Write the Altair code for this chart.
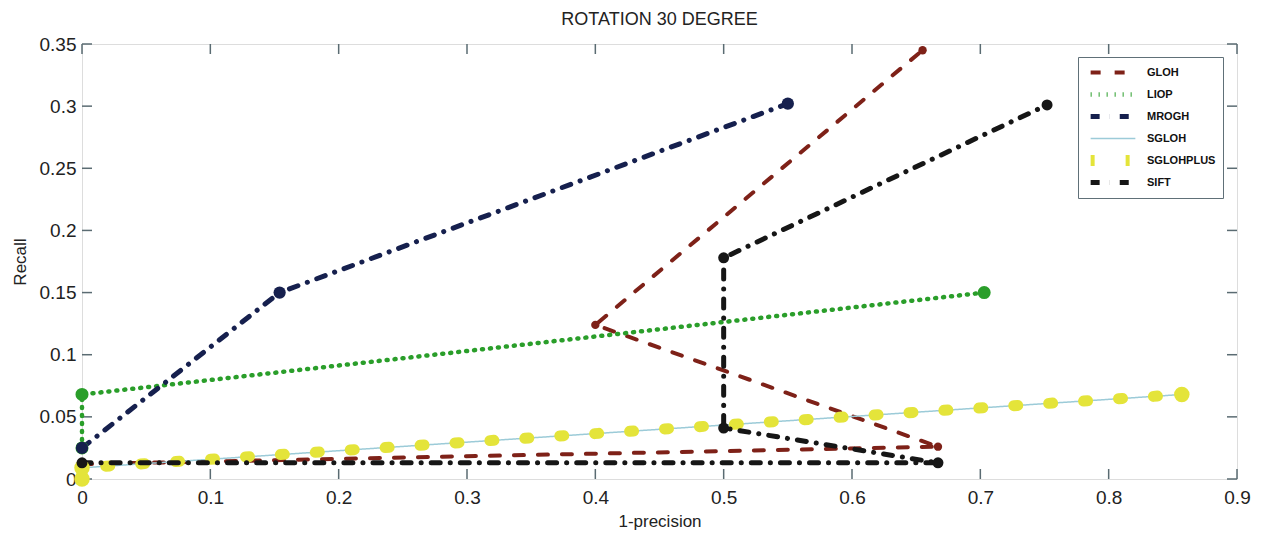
import altair as alt
import pandas as pd

# ---- data ----
series_names = ["GLOH", "LIOP", "MROGH", "SGLOH", "SGLOHPLUS", "SIFT"]

gloh_x = [0.0, 0.667, 0.40, 0.655]
gloh_y = [0.012, 0.026, 0.124, 0.345]

liop_x = [0.0, 0.0, 0.703]
liop_y = [0.025, 0.068, 0.150]

mrogh_x = [0.0, 0.154, 0.55]
mrogh_y = [0.025, 0.150, 0.302]

sgloh_x = [0.0, 0.857]
sgloh_y = [0.009, 0.068]

sglohplus_x = [0.0, 0.0, 0.857]
sglohplus_y = [0.0, 0.009, 0.068]

sift_x = [0.0, 0.667, 0.50, 0.50, 0.752]
sift_y = [0.013, 0.013, 0.041, 0.178, 0.301]

x_ticks = [0.0, 0.1, 0.2, 0.3, 0.4, 0.5, 0.6, 0.7, 0.8, 0.9]
y_ticks = [0.0, 0.05, 0.1, 0.15, 0.2, 0.25, 0.3, 0.35]

# ---- styles ----
colors = ["#7e2118", "#2a9e2a", "#16204e", "#9ccbd8", "#e4e43a", "#161616"]
dashes = [[10, 14], [1, 7], [9, 10, 0.1, 10], [1, 0], [4, 31], [9, 10, 0.1, 10]]
widths = [4, 4.5, 5, 1.5, 11, 5]
marker_sizes = [70, 170, 150, 15, 240, 120]

all_x = [gloh_x, liop_x, mrogh_x, sgloh_x, sglohplus_x, sift_x]
all_y = [gloh_y, liop_y, mrogh_y, sgloh_y, sglohplus_y, sift_y]

rows = []
for name, xs, ys in zip(series_names, all_x, all_y):
    for i, (xv, yv) in enumerate(zip(xs, ys)):
        rows.append({"series": name, "x": xv, "y": yv, "order": i})
df = pd.DataFrame(rows)

W, H = 1155, 435
AXC = "#5a6b72"
FONT = "Liberation Sans"

xscale = alt.Scale(domain=[0, 0.9], nice=False, zero=False)
yscale = alt.Scale(domain=[0, 0.35], nice=False, zero=False)
cscale = alt.Scale(domain=series_names, range=colors)

xaxis = alt.Axis(title="1-precision", values=x_ticks, format="~g", grid=False,
                 domain=False, ticks=False, tickSize=0, labelFontSize=19,
                 labelColor="#222222", labelPadding=9, titleFontSize=17,
                 titleFontWeight="normal", titleColor="#222222", titlePadding=6,
                 labelFont=FONT, titleFont=FONT, labelFlush=False)
yaxis = alt.Axis(title="Recall", values=y_ticks, format="~g", grid=False,
                 domain=False, ticks=False, tickSize=0, labelFontSize=19,
                 labelColor="#222222", labelPadding=6, titleFontSize=17,
                 titleFontWeight="normal", titleColor="#222222", titlePadding=10,
                 labelFont=FONT, titleFont=FONT, labelFlush=False)

X = alt.X("x:Q", scale=xscale, axis=xaxis)
Y = alt.Y("y:Q", scale=yscale, axis=yaxis)

lines = alt.Chart(df).mark_line(strokeCap="round", strokeJoin="round").encode(
    x=X, y=Y,
    color=alt.Color("series:N", scale=cscale,
                    legend=alt.Legend(title=None, orient="none", legendX=996, legendY=13,
                                      labelFont=FONT, labelFontSize=11, labelFontWeight="bold",
                                      labelColor="#111111", symbolType="stroke", symbolSize=2000,
                                      clipHeight=17, strokeColor="#607078", fillColor="white",
                                      padding=7, rowPadding=5, labelOffset=6)),
    strokeDash=alt.StrokeDash("series:N", scale=alt.Scale(type="ordinal", domain=series_names, range=dashes)),
    strokeWidth=alt.StrokeWidth("series:N", scale=alt.Scale(type="ordinal", domain=series_names, range=widths)),
    order="order:Q",
)

point_layers = []
for name, col, sz in zip(series_names, colors, marker_sizes):
    point_layers.append(
        alt.Chart(df).transform_filter(alt.datum.series == name)
        .mark_point(filled=True, opacity=1, color=col, size=sz)
        .encode(x=X, y=Y)
    )

tx = pd.DataFrame({"x": x_ticks})
ty = pd.DataFrame({"y": y_ticks})
tick_bottom = alt.Chart(tx).mark_rule(color=AXC, strokeWidth=1.5).encode(
    x=X, y=alt.value(H), y2=alt.value(H - 10))
tick_top = alt.Chart(tx).mark_rule(color=AXC, strokeWidth=1.5).encode(
    x=X, y=alt.value(0), y2=alt.value(10))
tick_left = alt.Chart(ty).mark_rule(color=AXC, strokeWidth=1.5).encode(
    y=Y, x=alt.value(0), x2=alt.value(10))
tick_right = alt.Chart(ty).mark_rule(color=AXC, strokeWidth=1.5).encode(
    y=Y, x=alt.value(W), x2=alt.value(W - 10))

chart = alt.layer(tick_bottom, tick_top, tick_left, tick_right, lines, *point_layers).properties(
    width=W, height=H,
    title=alt.TitleParams("ROTATION 30 DEGREE", fontSize=18, fontWeight="normal",
                          font=FONT, color="#222222", offset=6, anchor="middle"),
    autosize=alt.AutoSizeParams(type="none"),
    padding={"left": 82, "top": 44, "right": 24, "bottom": 59},
).configure_view(stroke=AXC, strokeWidth=2).configure(background="white")

chart.save("out.html", embed_options={"renderer": "svg", "actions": False})
